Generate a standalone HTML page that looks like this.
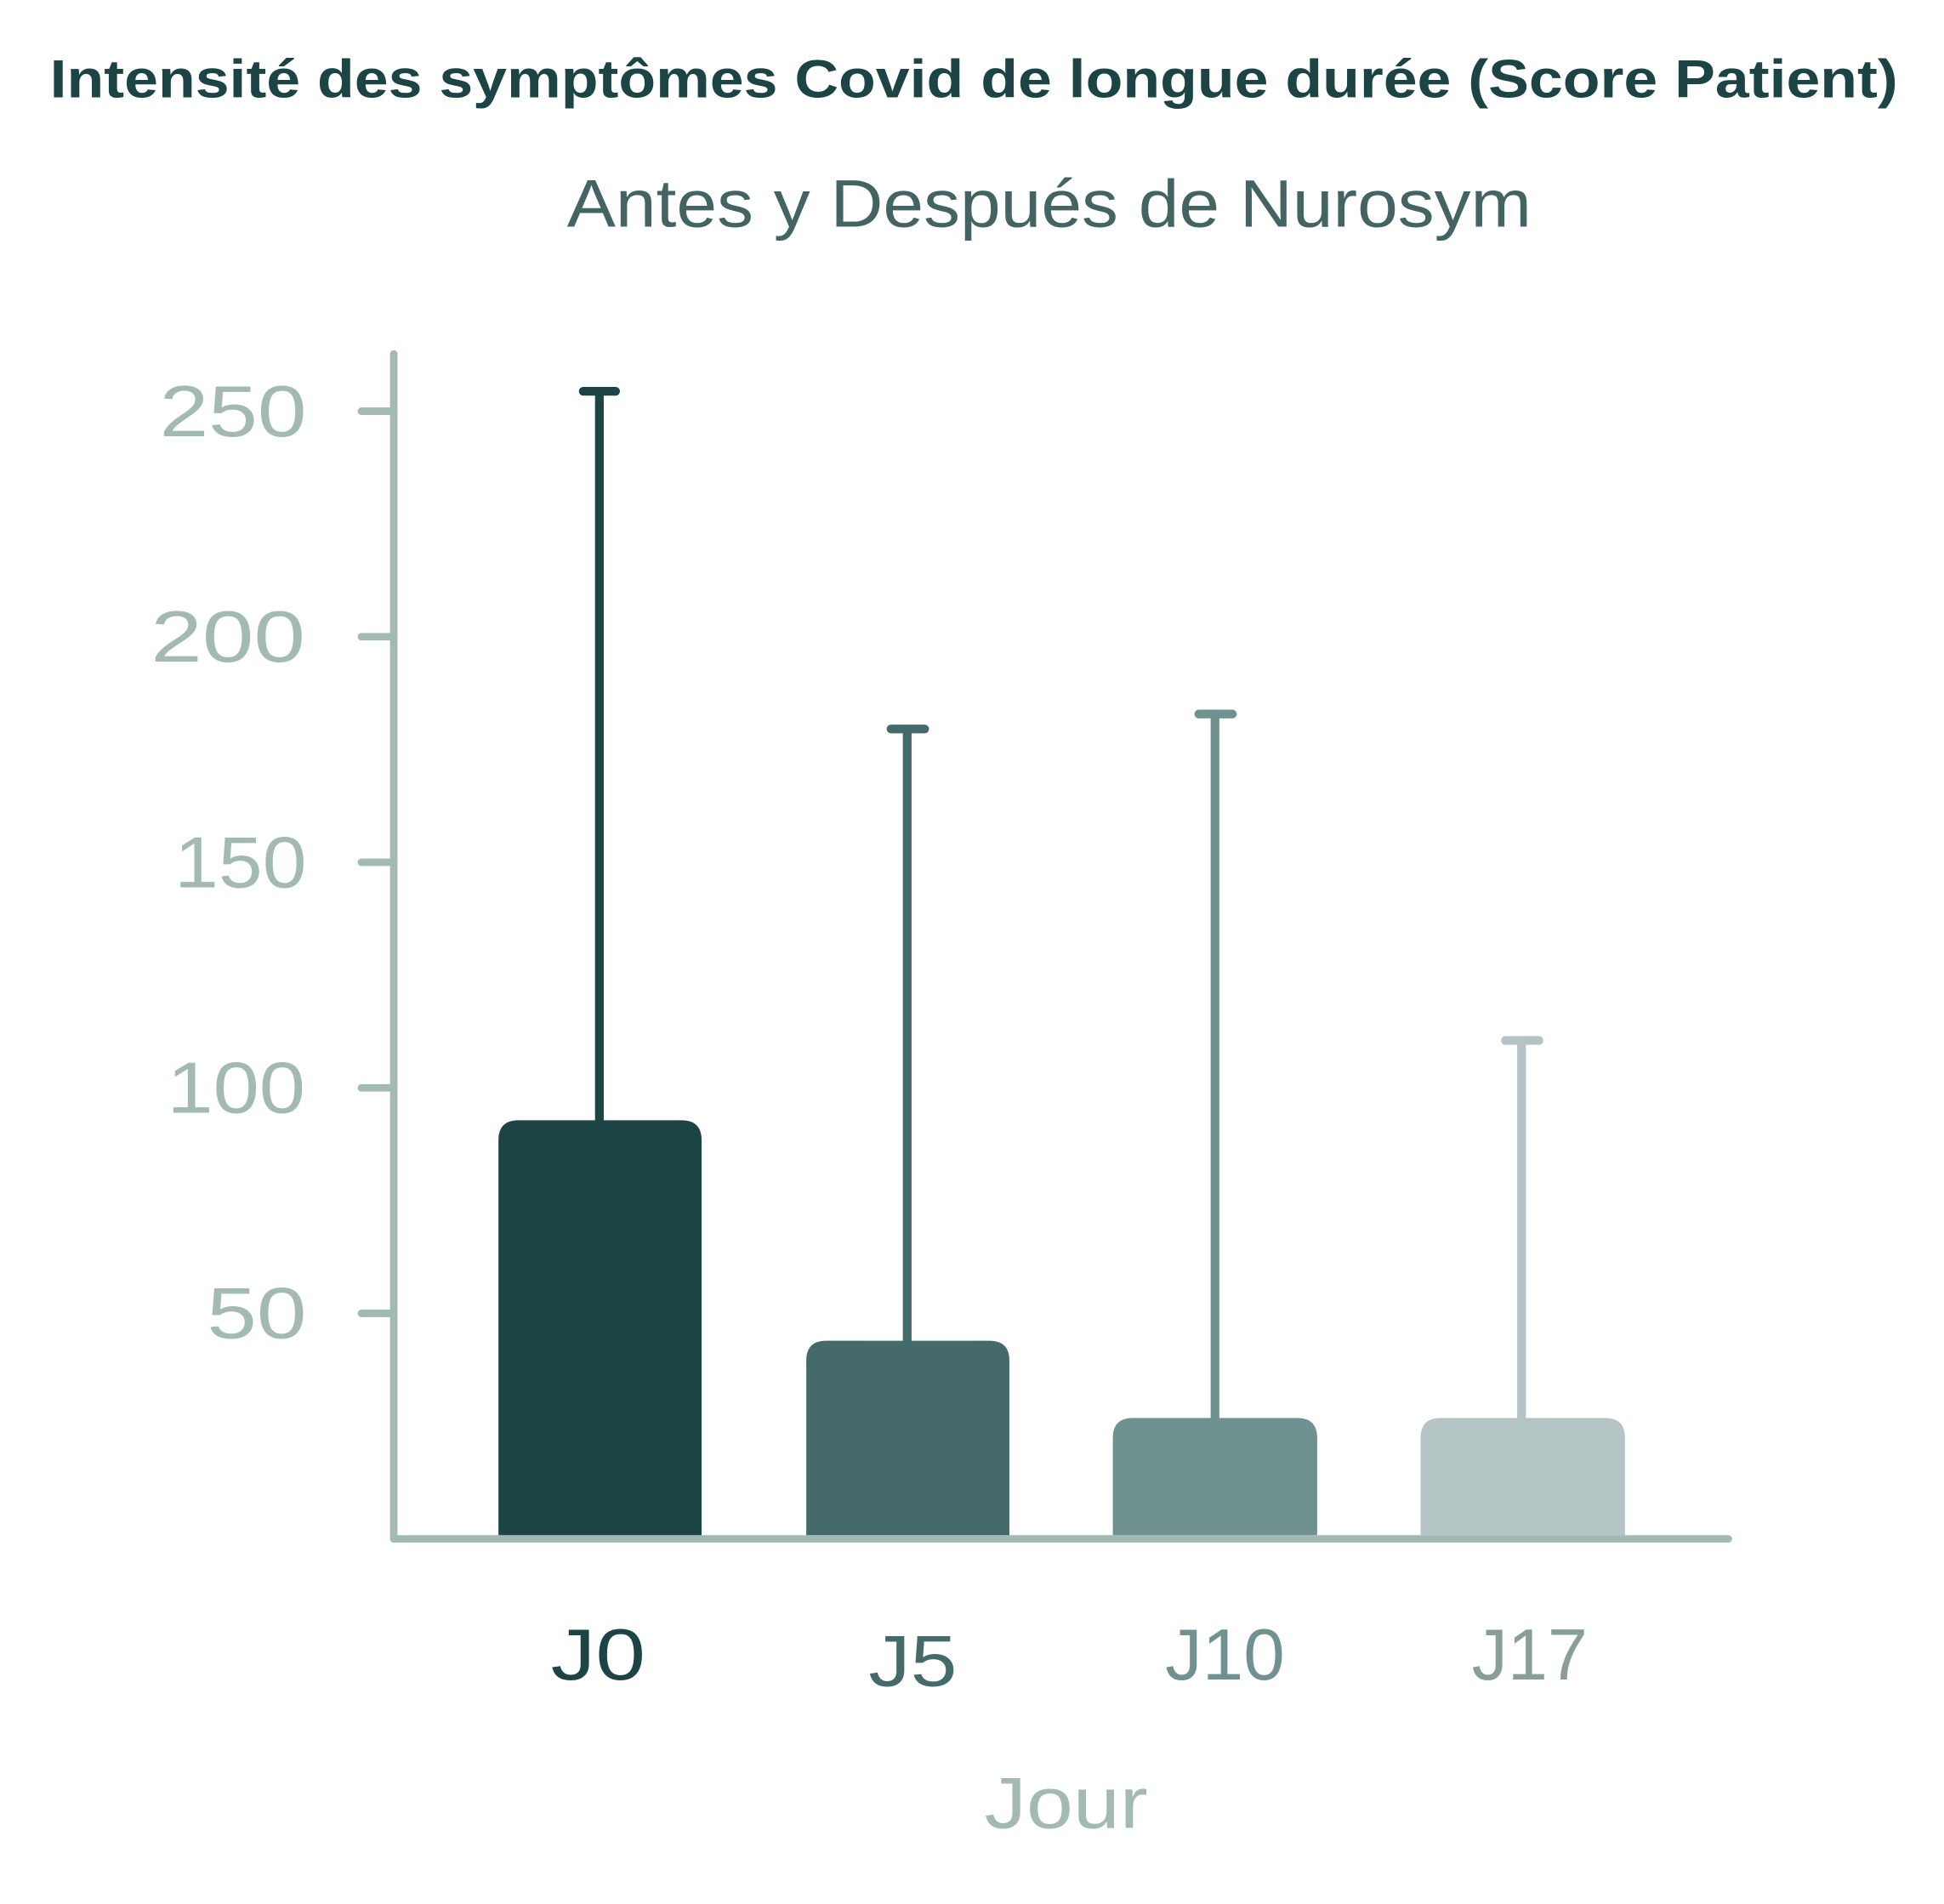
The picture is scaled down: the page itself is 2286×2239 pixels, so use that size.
<!DOCTYPE html>
<html><head><meta charset="utf-8"><style>html,body{margin:0;padding:0;background:#fff}svg{display:block}</style></head>
<body>
<svg width="2286" height="2239" viewBox="0 0 1560 1528" preserveAspectRatio="none" xmlns="http://www.w3.org/2000/svg" font-family="Liberation Sans, sans-serif">
<rect width="1560" height="1528" fill="#fff"/>
<text x="40" y="78" font-size="43" font-weight="bold" fill="#1c4444" textLength="1483" lengthAdjust="spacingAndGlyphs">Intensité des symptômes Covid de longue durée (Score Patient)</text>
<text x="455" y="182" font-size="54" fill="#446464" textLength="774" lengthAdjust="spacingAndGlyphs">Antes y Después de Nurosym</text>
<g stroke="#a3b9b3" stroke-width="6" stroke-linecap="round">
<line x1="316" y1="284" x2="316" y2="1235"/>
<line x1="316" y1="1235" x2="1387" y2="1235"/>
<line x1="290" y1="330" x2="316" y2="330"/>
<line x1="290" y1="511" x2="316" y2="511"/>
<line x1="290" y1="692" x2="316" y2="692"/>
<line x1="290" y1="873" x2="316" y2="873"/>
<line x1="290" y1="1054" x2="316" y2="1054"/>
</g>
<g font-size="58" fill="#a3b9b3">
<text x="128" y="350" textLength="118" lengthAdjust="spacingAndGlyphs">250</text>
<text x="121" y="531" textLength="124" lengthAdjust="spacingAndGlyphs">200</text>
<text x="140" y="712" textLength="106" lengthAdjust="spacingAndGlyphs">150</text>
<text x="134" y="893" textLength="111" lengthAdjust="spacingAndGlyphs">100</text>
<text x="166" y="1074" textLength="80" lengthAdjust="spacingAndGlyphs">50</text>
</g>
<path d="M400 1232 V915 Q400 899 416 899 H547 Q563 899 563 915 V1232 Z" fill="#1c4444"/>
<path d="M647 1232 V1092 Q647 1076 663 1076 H794 Q810 1076 810 1092 V1232 Z" fill="#446a6a"/>
<path d="M893 1232 V1154 Q893 1138 909 1138 H1041 Q1057 1138 1057 1154 V1232 Z" fill="#6f9190"/>
<path d="M1140 1232 V1154 Q1140 1138 1156 1138 H1288 Q1304 1138 1304 1154 V1232 Z" fill="#b4c3c3"/>
<g stroke-width="7" stroke-linecap="round">
<g stroke="#1c4444"><line x1="481" y1="314" x2="481" y2="900"/><line x1="468" y1="314" x2="494" y2="314"/></g>
<g stroke="#446a6a"><line x1="728" y1="585" x2="728" y2="1077"/><line x1="715" y1="585" x2="742" y2="585"/></g>
<g stroke="#6f9190"><line x1="975" y1="573" x2="975" y2="1139"/><line x1="962" y1="573" x2="989" y2="573"/></g>
<g stroke="#b4c3c3"><line x1="1221" y1="835" x2="1221" y2="1139"/><line x1="1208" y1="835" x2="1235" y2="835"/></g>
</g>
<g font-size="58">
<text x="442" y="1348" fill="#1c4444" textLength="76" lengthAdjust="spacingAndGlyphs">J0</text>
<text x="697" y="1353" fill="#446a6a" textLength="71" lengthAdjust="spacingAndGlyphs">J5</text>
<text x="935" y="1348" fill="#6f9190" textLength="96" lengthAdjust="spacingAndGlyphs">J10</text>
<text x="1181" y="1348" fill="#8a9e98" textLength="93" lengthAdjust="spacingAndGlyphs">J17</text>
<text x="790" y="1467" fill="#a3b9b3" textLength="131" lengthAdjust="spacingAndGlyphs">Jour</text>
</g>
</svg>
</body></html>
